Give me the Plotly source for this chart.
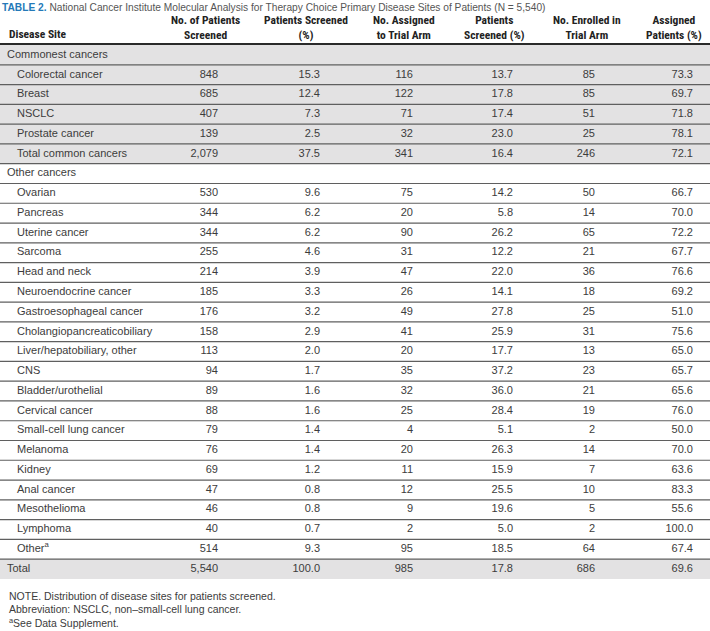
import plotly.graph_objects as go

# ---------------- data ----------------
sites = ["Commonest cancers", "Colorectal cancer", "Breast", "NSCLC", "Prostate cancer",
         "Total common cancers", "Other cancers", "Ovarian", "Pancreas", "Uterine cancer",
         "Sarcoma", "Head and neck", "Neuroendocrine cancer", "Gastroesophageal cancer",
         "Cholangiopancreaticobiliary", "Liver/hepatobiliary, other", "CNS",
         "Bladder/urothelial", "Cervical cancer", "Small-cell lung cancer", "Melanoma",
         "Kidney", "Anal cancer", "Mesothelioma", "Lymphoma", "Other<sup>a</sup>", "Total"]
screened = [None, 848, 685, 407, 139, 2079, None, 530, 344, 344, 255, 214, 185, 176, 158,
            113, 94, 89, 88, 79, 76, 69, 47, 46, 40, 514, 5540]
pct_screened = [None, 15.3, 12.4, 7.3, 2.5, 37.5, None, 9.6, 6.2, 6.2, 4.6, 3.9, 3.3, 3.2,
                2.9, 2.0, 1.7, 1.6, 1.6, 1.4, 1.4, 1.2, 0.8, 0.8, 0.7, 9.3, 100.0]
assigned = [None, 116, 122, 71, 32, 341, None, 75, 20, 90, 31, 47, 26, 49, 41, 20, 35, 32,
            25, 4, 20, 11, 12, 9, 2, 95, 985]
pct_assigned = [None, 13.7, 17.8, 17.4, 23.0, 16.4, None, 14.2, 5.8, 26.2, 12.2, 22.0, 14.1,
                27.8, 25.9, 17.7, 37.2, 36.0, 28.4, 5.1, 26.3, 15.9, 25.5, 19.6, 5.0, 18.5, 17.8]
enrolled = [None, 85, 85, 51, 25, 246, None, 50, 14, 65, 21, 36, 18, 25, 31, 13, 23, 21, 19,
            2, 14, 7, 10, 5, 2, 64, 686]
pct_enrolled = [None, 73.3, 69.7, 71.8, 78.1, 72.1, None, 66.7, 70.0, 72.2, 67.7, 76.6, 69.2,
                51.0, 75.6, 65.0, 65.7, 65.6, 76.0, 50.0, 70.0, 63.6, 83.3, 55.6, 100.0, 67.4, 69.6]
headers = ["Disease Site", "No. of Patients<br>Screened", "Patients Screened<br>(%)",
           "No. Assigned<br>to Trial Arm", "Patients<br>Screened (%)",
           "No. Enrolled in<br>Trial Arm", "Assigned<br>Patients (%)"]
section_rows = ["Commonest cancers", "Other cancers", "Total"]
shaded_rows = ["Commonest cancers", "Colorectal cancer", "Breast", "NSCLC", "Prostate cancer",
               "Total common cancers", "Total"]
title_label = "TABLE 2."
title_text = ("National Cancer Institute Molecular Analysis for Therapy Choice Primary "
              "Disease Sites of Patients (N = 5,540)")
notes = ["NOTE. Distribution of disease sites for patients screened.",
         "Abbreviation: NSCLC, non–small-cell lung cancer.",
         "<sup>a</sup>See Data Supplement."]

# ---------------- layout constants ----------------
W, H = 710, 631
TOP = 45.1
RH = 19.77
BODY_FONT = "Liberation Sans, Arial, sans-serif"
HEAD_FONT = "Liberation Sans Narrow, Arial Narrow, Roboto Condensed, sans-serif"
TXT = "#3c3c3c"
SHADE = "#e3e2e3"
LINE = "#5f5f5f"

n = len(sites)
ycent = [TOP + (i + 0.5) * RH for i in range(n)]


def fmt_int(v):
    return f"{v:,}"


def fmt_pct(v):
    return f"{v:.1f}"


fig = go.Figure()

# row shading and separators
shapes = []
for i, s in enumerate(sites):
    if s in shaded_rows:
        shapes.append(dict(type="rect", xref="x", yref="y", x0=0, x1=W,
                           y0=TOP + i * RH, y1=TOP + (i + 1) * RH,
                           fillcolor=SHADE, line=dict(width=0), layer="below"))
for i in range(1, n):
    y = TOP + i * RH
    shapes.append(dict(type="line", xref="x", yref="y", x0=0, x1=W, y0=y, y1=y,
                       line=dict(color=LINE, width=1.2)))
shapes.append(dict(type="line", xref="x", yref="y", x0=0, x1=W, y0=TOP - 1, y1=TOP - 1,
                   line=dict(color="#2a2a2a", width=2)))

# disease site column
xs_site = [7 if s in section_rows else 17 for s in sites]
fig.add_trace(go.Scatter(x=xs_site, y=ycent, mode="text", text=sites,
                         textposition="middle right",
                         textfont=dict(family=BODY_FONT, size=11, color=TXT),
                         hoverinfo="skip", showlegend=False))

# numeric columns (right-aligned)
cols = [(screened, fmt_int, 218), (pct_screened, fmt_pct, 320), (assigned, fmt_int, 413),
        (pct_assigned, fmt_pct, 513), (enrolled, fmt_int, 595), (pct_enrolled, fmt_pct, 693)]
for vals, f, xr in cols:
    ys = [y for y, v in zip(ycent, vals) if v is not None]
    ts = [f(v) for v in vals if v is not None]
    fig.add_trace(go.Scatter(x=[xr] * len(ys), y=ys, mode="text", text=ts,
                             textposition="middle left",
                             textfont=dict(family=BODY_FONT, size=11, color=TXT),
                             hoverinfo="skip", showlegend=False))

annotations = []
# header
head_x = [7, 205, 306, 404, 494, 587, 674]
for k, (h, hx) in enumerate(zip(headers, head_x)):
    if k == 0:
        annotations.append(dict(x=hx, y=34, xref="x", yref="y", text="<b>" + h + "</b>",
                                showarrow=False, xanchor="left", yanchor="middle",
                                font=dict(family=HEAD_FONT, size=11.5, color="#222")))
    else:
        annotations.append(dict(x=hx, y=27, xref="x", yref="y", text="<b>" + h + "</b>",
                                showarrow=False, xanchor="center", yanchor="middle",
                                align="center",
                                font=dict(family=HEAD_FONT, size=11.5, color="#222")))

# title
annotations.append(dict(x=0, y=7, xref="x", yref="y",
                        text=f"<b><span style='color:#2479b8'>{title_label}</span></b> "
                             f"<span style='color:#555'>{title_text}</span>",
                        showarrow=False, xanchor="left", yanchor="middle",
                        font=dict(family=BODY_FONT, size=10.2, color="#555")))

# notes
for j, t in enumerate(notes):
    annotations.append(dict(x=7, y=596 + j * 13.2, xref="x", yref="y", text=t,
                            showarrow=False, xanchor="left", yanchor="middle",
                            font=dict(family=BODY_FONT, size=10.5, color=TXT)))

fig.update_layout(
    width=W, height=H, margin=dict(l=0, r=0, t=0, b=0),
    paper_bgcolor="white", plot_bgcolor="white",
    xaxis=dict(range=[0, W], visible=False, fixedrange=True),
    yaxis=dict(range=[H, 0], visible=False, fixedrange=True),
    shapes=shapes, annotations=annotations,
)

fig.write_html("out.html", config={"displayModeBar": False},
               post_script="document.body.style.margin='0px';"
                           "document.body.style.overflow='hidden';")
